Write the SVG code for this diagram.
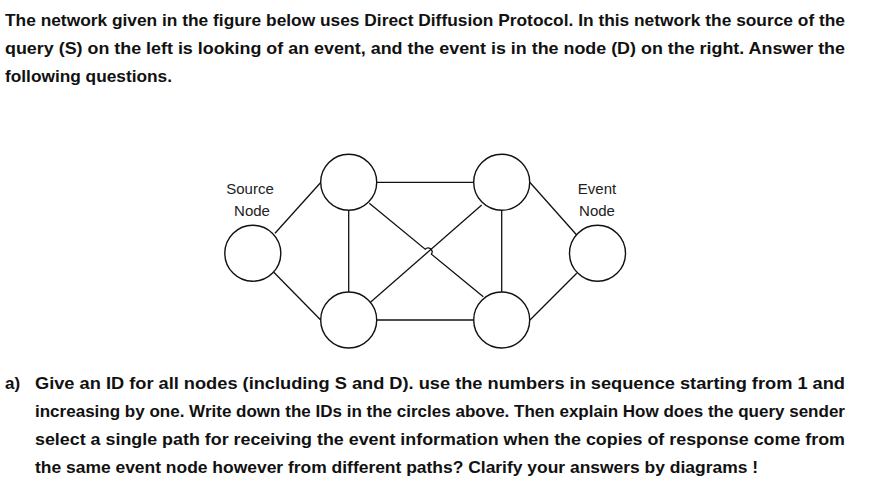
<svg xmlns="http://www.w3.org/2000/svg" width="872" height="492" viewBox="0 0 872 492">
<style>
.q{font-family:"Liberation Sans",Arial,sans-serif;font-weight:bold;font-size:17px;fill:#111}
.lbl{font-family:"Liberation Sans",Arial,sans-serif;font-size:15px;fill:#222;text-anchor:middle}
.n{fill:#fff;stroke:#111;stroke-width:1.4}
.e{fill:none;stroke:#111;stroke-width:1.3}
</style>
<rect width="872" height="492" fill="#fff"/>
<g id="question">
<text class="q" x="5" y="26" textLength="840" lengthAdjust="spacingAndGlyphs">The network given in the figure below uses Direct Diffusion Protocol. In this network the source of the</text>
<text class="q" x="5" y="54" textLength="840" lengthAdjust="spacingAndGlyphs">query (S) on the left is looking of an event, and the event is in the node (D) on the right. Answer the</text>
<text class="q" x="5" y="82" textLength="167" lengthAdjust="spacingAndGlyphs">following questions.</text>
</g>
<g id="connectors">
<line class="e" x1="275" y1="233.3" x2="320.7" y2="182.5"/>
<line class="e" x1="273.3" y1="271.7" x2="320.7" y2="320"/>
<line class="e" x1="376.7" y1="182.3" x2="473.3" y2="182.3"/>
<line class="e" x1="348.7" y1="210.5" x2="348.7" y2="292"/>
<line class="e" x1="501.7" y1="210.5" x2="501.7" y2="292"/>
<line class="e" x1="376.7" y1="320" x2="473.3" y2="320"/>
<path class="e" d="M369.3 203.3 L425.2 249.2 A4 4 0 0 1 431.4 254.2 L483.3 296.7"/>
<line class="e" x1="369.3" y1="303.3" x2="481.7" y2="205"/>
<line class="e" x1="530" y1="182.5" x2="576.7" y2="235"/>
<line class="e" x1="530" y1="320" x2="576.7" y2="273.3"/>
</g>
<g id="node-source">
<circle class="n" cx="252.8" cy="253.3" r="28"/>
<text class="lbl" x="250" y="194">Source</text>
<text class="lbl" x="252" y="216">Node</text>
</g>
<g id="node-top-left"><circle class="n" cx="348.7" cy="182.3" r="28"/></g>
<g id="node-top-right"><circle class="n" cx="501.7" cy="182.3" r="28"/></g>
<g id="node-bottom-left"><circle class="n" cx="348.7" cy="320" r="28"/></g>
<g id="node-bottom-right"><circle class="n" cx="501.7" cy="320" r="28"/></g>
<g id="node-event">
<circle class="n" cx="597.5" cy="253.3" r="28"/>
<text class="lbl" x="597" y="194">Event</text>
<text class="lbl" x="597" y="216">Node</text>
</g>
<g id="part-a">
<text class="q" x="5" y="389">a)</text>
<text class="q" x="35" y="389" textLength="810" lengthAdjust="spacingAndGlyphs">Give an ID for all nodes (including S and D). use the numbers in sequence starting from 1 and</text>
<text class="q" x="35" y="417" textLength="810" lengthAdjust="spacingAndGlyphs">increasing by one. Write down the IDs in the circles above. Then explain How does the query sender</text>
<text class="q" x="35" y="445" textLength="810" lengthAdjust="spacingAndGlyphs">select a single path for receiving the event information when the copies of response come from</text>
<text class="q" x="35" y="473" textLength="723" lengthAdjust="spacingAndGlyphs">the same event node however from different paths? Clarify your answers by diagrams !</text>
</g>
</svg>
